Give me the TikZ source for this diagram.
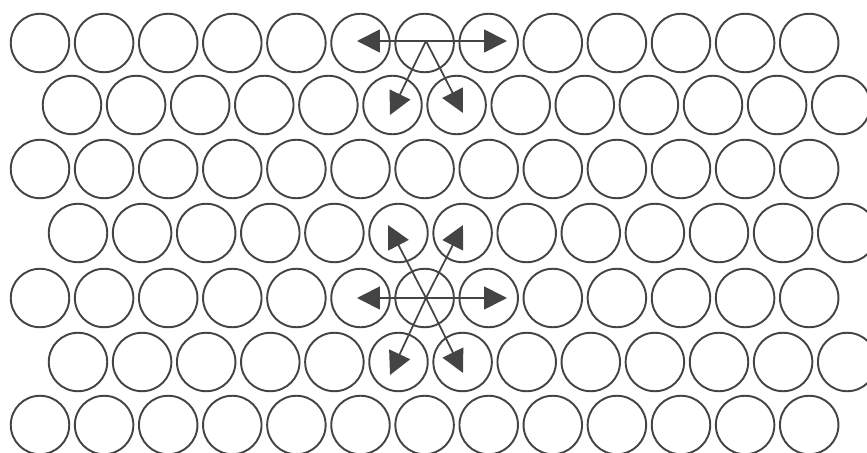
\documentclass[tikz,border=0pt]{standalone}
\usetikzlibrary{arrows.meta}
\definecolor{gris}{RGB}{68,68,68}
\begin{document}
\begin{tikzpicture}[x=0.02cm, y=-0.02cm,
    disc/.style={circle, draw=gris, line width=1.1pt, minimum size=1.17cm, inner sep=0pt},
    fletxa/.style={draw=gris, line width=1pt, -{Triangle[length=13pt,width=13pt]}}]
    \useasboundingbox (0,0) rectangle (867,453);

    % Files de cercles: fila / altura / primer centre
    \foreach \f/\y/\x in {1/43/40, 2/105/72, 3/169/40, 4/233/78, 5/298/40, 6/362/78, 7/425/40}{
        \foreach \c in {0,...,12}
            \node[disc] (c\f-\c) at ({\x+64.1*\c},\y) {};
    }

    % --- FLETXES DE DALT ---
    \coordinate (o1) at (426,41);
    \coordinate (o1-e) at (357,41);
    \coordinate (o1-d) at (507,41);
    \coordinate (o1-be) at (390,115);
    \coordinate (o1-bd) at (463,113);
    \foreach \p in {e,d,be,bd}
        \draw[fletxa] (o1) -- (o1-\p);

    % --- FLETXES DEL MIG ---
    \coordinate (o2) at (426,298);
    \coordinate (o2-e) at (357,298);
    \coordinate (o2-d) at (507,298);
    \coordinate (o2-ae) at (388,225);
    \coordinate (o2-ad) at (463,225);
    \coordinate (o2-be) at (390,375);
    \coordinate (o2-bd) at (463,373);
    \foreach \p in {e,d,ae,ad,be,bd}
        \draw[fletxa] (o2) -- (o2-\p);
\end{tikzpicture}
\end{document}
